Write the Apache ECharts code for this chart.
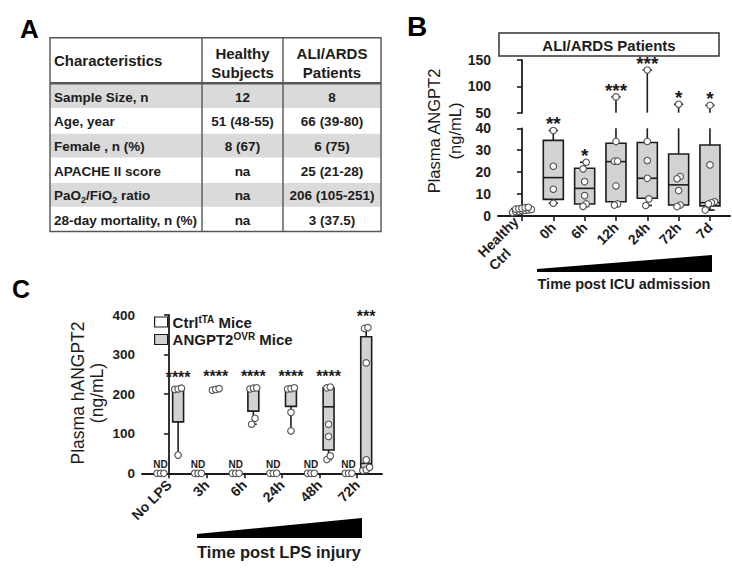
<!DOCTYPE html>
<html>
<head>
<meta charset="utf-8">
<script src="https://cdn.jsdelivr.net/npm/echarts@6/dist/echarts.min.js"></script>
<style>
  html, body { margin: 0; padding: 0; background: #fff; }
  #chart { width: 732px; height: 574px; }
</style>
</head>
<body>
<div id="chart"></div>
<script>
// ---- panel A: patient characteristics ----
const tableHeader = ['Characteristics', 'Healthy\nSubjects', 'ALI/ARDS\nPatients'];
const tableRows = [
  ['Sample Size, n', '12', '8'],
  ['Age, year', '51 (48-55)', '66 (39-80)'],
  ['Female , n (%)', '8 (67)', '6 (75)'],
  ['APACHE II score', 'na', '25 (21-28)'],
  ['{n|PaO}{s|2}{n|/FiO}{s|2}{n| ratio}', 'na', '206 (105-251)'],
  ['28-day mortality, n (%)', 'na', '3 (37.5)']
];

// ---- panel B: plasma ANGPT2 in patients (ng/mL) ----
const bCategories = ['Healthy\nCtrl', '0h', '6h', '12h', '24h', '72h', '7d'];
// [min, q1, median, q3, max]
const bBoxStats = [
  [1.5, 2.0, 2.8, 3.4, 4.0],
  [5.8, 7.6, 17.5, 34.5, 39],
  [4.4, 5.5, 12.6, 21.8, 24.5],
  [5.0, 6.5, 24.8, 33.2, 80],
  [4.8, 8.1, 17.2, 33.5, 131],
  [4.3, 5.0, 14.2, 28.3, 66],
  [2.7, 4.6, 6.1, 32.4, 64]
];
const bPoints = [
  [1.6, 2.0, 2.2, 2.5, 2.6, 2.8, 3.0, 3.1, 3.3, 3.5, 3.8, 4.0],
  [39, 22.7, 12.2, 5.8],
  [24.5, 21.5, 15.7, 9.3, 5.5, 4.4],
  [80, 34, 25, 25, 13.7, 5.5, 5.0],
  [131, 34, 25.3, 17.2, 7.8, 4.8],
  [66, 18, 17, 11.6, 5.0, 4.3],
  [64, 23.3, 6.5, 6.0, 5.5, 2.7]
];
const bStars = ['', '**', '*', '***', '***', '*', '*'];
const bLowAxis = [0, 40, 10];    // min, max, interval
const bHighAxis = [50, 150, 50];

// ---- panel C: plasma hANGPT2 in mice (ng/mL) ----
const cCategories = ['No LPS', '3h', '6h', '24h', '48h', '72h'];
const cCtrlStats = [
  [0, 0, 0, 0, 0], [0, 0, 0, 0, 0], [0, 0, 0, 0, 0],
  [0, 0, 0, 0, 0], [0, 0, 0, 0, 0], [0, 0, 0, 0, 0]
];
const cCtrlPoints = [[0, 0, 0], [0, 0, 0], [0, 0, 0], [0, 0, 0], [0, 0, 0], [0, 0, 0]];
const cCtrlNotes = ['ND', 'ND', 'ND', 'ND', 'ND', 'ND'];
const cOvrStats = [
  [46, 130, 213, 215, 215],
  [209, 210, 213, 215, 216],
  [124, 157, 213, 215, 216],
  [107, 169, 213, 215, 216],
  [35, 59, 168, 216, 218],
  [7, 12, 25, 345, 368]
];
const cOvrPoints = [
  [46, 212, 213, 215],
  [210, 212, 214],
  [124, 139, 213, 215, 216],
  [107, 154, 213, 214, 216],
  [35, 44, 93, 124, 216, 218],
  [7, 9, 15, 34, 279, 366, 368]
];
const cStars = ['****', '****', '****', '****', '****', '***'];
const cAxis = [0, 400, 100];
const cSeriesNames = ['Ctrl', 'ANGPT2'];

// ---- look ----
const FONT = '"Liberation Sans", Arial, Helvetica, sans-serif';
const INK = '#1c1c1c';
const BOX_FILL = '#d2d2d2';
const ROW_FILL = '#dadada';

function jitterOffsets(vals, tol, step, perRow) {
  const order = vals.map((v, i) => i).sort((a, b) => vals[a] - vals[b]);
  const off = vals.map(() => 0);
  let cluster = [];
  const flush = () => {
    const m = cluster.length;
    cluster.forEach((idx, j) => {
      const rowStart = Math.floor(j / perRow) * perRow;
      const rowSize = Math.min(perRow, m - rowStart);
      off[idx] = (j - rowStart - (rowSize - 1) / 2) * step;
    });
    cluster = [];
  };
  order.forEach(idx => {
    if (cluster.length && vals[idx] - vals[cluster[cluster.length - 1]] > tol) flush();
    cluster.push(idx);
  });
  flush();
  return off;
}

function pointData(groups, shift, tol, step, keep) {
  const out = [];
  groups.forEach((vals, i) => {
    const off = jitterOffsets(vals, tol, step, 7);
    vals.forEach((v, k) => { if (keep(v)) out.push([i + shift + off[k], v]); });
  });
  return out;
}

function boxData(stats, shift) {
  return stats.map((s, i) => [i + shift].concat(s));
}

function boxRenderer(o) {
  return function (params, api) {
    const x = api.value(0);
    const v = [1, 2, 3, 4, 5].map(k => api.value(k));
    const cl = t => Math.min(o.hi, Math.max(o.lo, t));
    const y = t => api.coord([x, cl(t)])[1];
    const cx = api.coord([x, o.lo])[0];
    const half = api.size([o.boxWidth, 0])[0] / 2;
    const capHalf = api.size([o.capWidth, 0])[0] / 2;
    const line = { stroke: INK, lineWidth: 1.6, fill: null };
    const kids = [];
    const vseg = (a, b) => kids.push({ type: 'line', shape: { x1: cx, y1: y(a), x2: cx, y2: y(b) }, style: line });
    const hseg = (t, h) => kids.push({ type: 'line', shape: { x1: cx - h, y1: y(t), x2: cx + h, y2: y(t) }, style: line });
    if (cl(v[4]) > cl(v[3])) vseg(v[3], v[4]);
    if (cl(v[1]) > cl(v[0])) vseg(v[0], v[1]);
    if (v[3] >= o.lo && v[1] <= o.hi) {
      const top = y(v[3]), bot = y(v[1]);
      kids.push({ type: 'rect', shape: { x: cx - half, y: top, width: half * 2, height: Math.max(bot - top, 1) },
        style: { fill: api.visual('color'), stroke: INK, lineWidth: 1.6 } });
    }
    if (v[2] >= o.lo && v[2] <= o.hi) hseg(v[2], half);
    if (v[0] >= o.lo && v[0] <= o.hi && v[0] < v[1]) hseg(v[0], capHalf);
    if (v[4] >= o.lo && v[4] <= o.hi && v[4] > v[3]) hseg(v[4], capHalf);
    const star = o.stars && o.stars[params.dataIndex];
    if (star && v[4] >= o.lo && v[4] <= o.hi) {
      kids.push({ type: 'text', x: cx, y: y(v[4]) - o.starGap,
        style: { text: star, font: 'bold ' + o.starSize + 'px ' + FONT, fill: INK,
          textAlign: 'center', align: 'center', textVerticalAlign: 'middle', verticalAlign: 'middle' } });
    }
    const note = o.notes && o.notes[params.dataIndex];
    if (note) {
      kids.push({ type: 'text', x: cx, y: y(v[4]) - 9,
        style: { text: note, font: 'bold 10px ' + FONT, fill: INK,
          textAlign: 'center', align: 'center', textVerticalAlign: 'middle', verticalAlign: 'middle' } });
    }
    return { type: 'group', children: kids };
  };
}

function yAxisCfg(grid, range, fontSize) {
  return {
    type: 'value', gridIndex: grid, min: range[0], max: range[1], interval: range[2],
    axisLine: { show: true, lineStyle: { color: INK, width: 1.8 } },
    axisTick: { show: true, length: 5, lineStyle: { color: INK, width: 1.6 } },
    axisLabel: { color: INK, fontFamily: FONT, fontWeight: 'bold', fontSize: fontSize, margin: 7 },
    splitLine: { show: false }
  };
}

// two-line category names: second line hangs below the first, left aligned
function xAxisCfg(grid, range, names, visible) {
  const idx = names.map((n, i) => i);
  return {
    type: 'value', gridIndex: grid, min: range[0], max: range[1], show: visible,
    axisLine: { show: true, onZero: false, lineStyle: { color: INK, width: 1.8 } },
    axisTick: { show: true, length: 5, customValues: idx, lineStyle: { color: INK, width: 1.6 } },
    axisLabel: {
      customValues: idx, rotate: 45, margin: 9, color: INK, fontFamily: FONT, fontWeight: 'bold', fontSize: 14,
      formatter: val => {
        const parts = names[Math.round(val)].split('\n');
        return parts.length > 1 ? '{h|' + parts[0] + '}\n{c|' + parts[1] + '}' : parts[0];
      },
      rich: {
        h: { fontSize: 14, fontWeight: 'bold', fontFamily: FONT, color: INK, lineHeight: 17, width: 52, align: 'right' },
        c: { fontSize: 14, fontWeight: 'bold', fontFamily: FONT, color: INK, lineHeight: 17, width: 52, align: 'left' }
      }
    },
    splitLine: { show: false }
  };
}

function pointSeries(xi, yi, data, name) {
  return {
    type: 'scatter', name: name, xAxisIndex: xi, yAxisIndex: yi, data: data, z: 5, silent: true,
    symbol: 'circle', symbolSize: 6.5,
    itemStyle: { color: '#fff', borderColor: '#555', borderWidth: 1.1, opacity: 1 }
  };
}

// layout
const bXRange = [-0.766, 6.64];
const cXRange = [-0.72, 5.66];
const tbl = { cols: [50, 202, 283, 381], top: 37.7, headH: 45.6, rowH: 24.7 };

const graphics = [];
const tblBottom = tbl.top + tbl.headH + tbl.rowH * tableRows.length;
const tblW = tbl.cols[3] - tbl.cols[0];
tableRows.forEach((row, r) => {
  const y0 = tbl.top + tbl.headH + r * tbl.rowH;
  if (r % 2 === 0) {
    graphics.push({ type: 'rect', shape: { x: tbl.cols[0], y: y0 + 1, width: tblW, height: tbl.rowH - 1 }, style: { fill: ROW_FILL } });
  }
  row.forEach((txt, c) => {
    const left = c === 0;
    graphics.push({ type: 'text', x: left ? tbl.cols[0] + 4 : (tbl.cols[c] + tbl.cols[c + 1]) / 2, y: y0 + tbl.rowH / 2 + 1.5,
      style: { text: txt, font: 'bold 13.5px ' + FONT, fill: INK,
        textAlign: left ? 'left' : 'center', align: left ? 'left' : 'center', textVerticalAlign: 'middle', verticalAlign: 'middle',
        rich: {
          n: { fontSize: 13.5, fontWeight: 'bold', fontFamily: FONT, lineHeight: 18, fill: INK, color: INK },
          s: { fontSize: 9, fontWeight: 'bold', fontFamily: FONT, lineHeight: 9, verticalAlign: 'bottom', fill: INK, color: INK }
        } } });
  });
});
tableHeader.forEach((txt, c) => {
  const left = c === 0;
  graphics.push({ type: 'text', x: left ? tbl.cols[0] + 4 : (tbl.cols[c] + tbl.cols[c + 1]) / 2, y: tbl.top + tbl.headH / 2 + (left ? 0 : 2.5),
    style: { text: txt, font: 'bold 15px ' + FONT, lineHeight: 19, fill: INK,
      textAlign: left ? 'left' : 'center', align: left ? 'left' : 'center', textVerticalAlign: 'middle', verticalAlign: 'middle' } });
});
graphics.push({ type: 'rect', shape: { x: tbl.cols[0], y: tbl.top, width: tblW, height: tblBottom - tbl.top }, style: { fill: null, stroke: '#555', lineWidth: 1.4 } });
[1, 2].forEach(c => graphics.push({ type: 'line', shape: { x1: tbl.cols[c], y1: tbl.top, x2: tbl.cols[c], y2: tblBottom }, style: { stroke: '#555', lineWidth: 1.4 } }));
graphics.push({ type: 'line', shape: { x1: tbl.cols[0], y1: tbl.top + tbl.headH, x2: tbl.cols[3], y2: tbl.top + tbl.headH }, style: { stroke: '#555', lineWidth: 2.6 } });

// panel letters
[['A', 20, 29, 26], ['B', 407, 26, 28], ['C', 12, 289, 25]].forEach(p => {
  graphics.push({ type: 'text', x: p[1], y: p[2], style: { text: p[0], font: 'bold ' + p[3] + 'px ' + FONT, fill: '#000', textVerticalAlign: 'middle', verticalAlign: 'middle' } });
});

// panel B decorations
graphics.push({ type: 'rect', shape: { x: 499, y: 33, width: 220, height: 23 }, style: { fill: '#fff', stroke: '#333', lineWidth: 1.5 } });
graphics.push({ type: 'text', x: 609, y: 45, style: { text: 'ALI/ARDS Patients', font: 'bold 15px ' + FONT, fill: INK, textAlign: 'center', align: 'center', textVerticalAlign: 'middle', verticalAlign: 'middle' } });
graphics.push({ type: 'text', x: 444, y: 131, rotation: Math.PI / 2,
  style: { text: 'Plasma ANGPT2\n(ng/mL)', font: '16.5px ' + FONT, lineHeight: 21, fill: INK, textAlign: 'center', align: 'center', textVerticalAlign: 'middle', verticalAlign: 'middle' } });
graphics.push({ type: 'polygon', shape: { points: [[537, 269], [712, 255], [712, 272], [537, 272]] }, style: { fill: '#000' } });
graphics.push({ type: 'text', x: 624, y: 284, style: { text: 'Time post ICU admission', font: 'bold 14.5px ' + FONT, fill: INK, textAlign: 'center', align: 'center', textVerticalAlign: 'middle', verticalAlign: 'middle' } });

// panel C decorations
graphics.push({ type: 'text', x: 87, y: 393, rotation: Math.PI / 2,
  style: { text: 'Plasma hANGPT2\n(ng/mL)', font: '17.5px ' + FONT, lineHeight: 19, fill: INK, textAlign: 'center', align: 'center', textVerticalAlign: 'middle', verticalAlign: 'middle' } });
graphics.push({ type: 'polygon', shape: { points: [[197, 534], [362, 518], [362, 538], [197, 538]] }, style: { fill: '#000' } });
graphics.push({ type: 'text', x: 279, y: 552, style: { text: 'Time post LPS injury', font: 'bold 16.5px ' + FONT, fill: INK, textAlign: 'center', align: 'center', textVerticalAlign: 'middle', verticalAlign: 'middle' } });

const chart = echarts.init(document.getElementById('chart'), null, { renderer: 'svg' });
chart.setOption({
  animation: false,
  backgroundColor: '#fff',
  textStyle: { fontFamily: FONT },
  grid: [
    { left: 498, top: 60, width: 232, height: 52.7, outerBoundsMode: 'none' },
    { left: 498, top: 128.3, width: 232, height: 87.7, outerBoundsMode: 'none' },
    { left: 142, top: 315, width: 240, height: 158.3, outerBoundsMode: 'none' }
  ],
  xAxis: [
    xAxisCfg(0, bXRange, bCategories, false),
    xAxisCfg(1, bXRange, bCategories, true),
    xAxisCfg(2, cXRange, cCategories, true)
  ],
  yAxis: [
    yAxisCfg(0, bHighAxis, 14),
    yAxisCfg(1, bLowAxis, 14),
    yAxisCfg(2, cAxis, 13.5)
  ],
  legend: {
    data: [
      { name: cSeriesNames[0], itemStyle: { color: '#fff', borderColor: INK, borderWidth: 1.2 } },
      { name: cSeriesNames[1], itemStyle: { color: BOX_FILL, borderColor: INK, borderWidth: 1.2 } }
    ],
    orient: 'vertical', left: 154, top: 314, padding: 0, itemWidth: 13, itemHeight: 10, itemGap: 2, icon: 'rect',
    selectedMode: false,
    formatter: n => n === cSeriesNames[0] ? '{b|Ctrl}{s|tTA}{b| Mice}' : '{b|ANGPT2}{s|OVR}{b| Mice}',
    textStyle: {
      rich: {
        b: { fontSize: 15, fontWeight: 'bold', fontFamily: FONT, color: INK, lineHeight: 16 },
        s: { fontSize: 10, fontWeight: 'bold', fontFamily: FONT, color: INK, lineHeight: 10, verticalAlign: 'top' }
      }
    }
  },
  graphic: { elements: graphics },
  series: [
    { type: 'custom', name: 'B high', xAxisIndex: 0, yAxisIndex: 0, data: boxData(bBoxStats, 0), itemStyle: { color: BOX_FILL }, z: 3,
      renderItem: boxRenderer({ lo: bHighAxis[0], hi: bHighAxis[1], boxWidth: 0.64, capWidth: 0.3, stars: bStars, starSize: 19, starGap: 6.5 }) },
    { type: 'custom', name: 'B low', xAxisIndex: 1, yAxisIndex: 1, data: boxData(bBoxStats, 0), itemStyle: { color: BOX_FILL }, z: 3,
      renderItem: boxRenderer({ lo: bLowAxis[0], hi: bLowAxis[1], boxWidth: 0.64, capWidth: 0.3, stars: bStars, starSize: 19, starGap: 6.5 }) },
    pointSeries(0, 0, pointData(bPoints, 0, 3, 0.1, v => v >= bHighAxis[0]), 'B high points'),
    pointSeries(1, 1, pointData(bPoints, 0, 3, 0.1, v => v <= bLowAxis[1]), 'B low points'),
    { type: 'custom', name: cSeriesNames[0], xAxisIndex: 2, yAxisIndex: 2, data: boxData(cCtrlStats, -0.23), itemStyle: { color: '#fff' }, z: 3,
      renderItem: boxRenderer({ lo: cAxis[0], hi: cAxis[1], boxWidth: 0.29, capWidth: 0.18, notes: cCtrlNotes }) },
    { type: 'custom', name: cSeriesNames[1], xAxisIndex: 2, yAxisIndex: 2, data: boxData(cOvrStats, 0.24), itemStyle: { color: BOX_FILL }, z: 3,
      renderItem: boxRenderer({ lo: cAxis[0], hi: cAxis[1], boxWidth: 0.29, capWidth: 0.18, stars: cStars, starSize: 16, starGap: 11 }) },
    pointSeries(2, 2, pointData(cCtrlPoints, -0.23, 16, 0.09, () => true), 'Ctrl points'),
    pointSeries(2, 2, pointData(cOvrPoints, 0.24, 16, 0.09, () => true), 'ANGPT2 points')
  ]
});
</script>
</body>
</html>
